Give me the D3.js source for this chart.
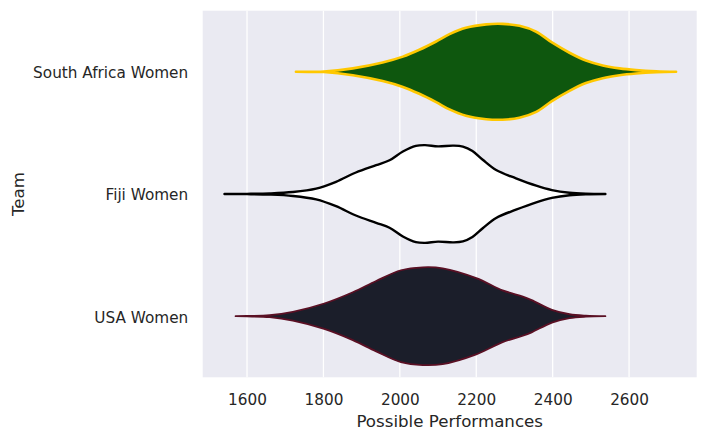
<!DOCTYPE html>
<html>
<head>
<meta charset="utf-8">
<script src="https://cdn.jsdelivr.net/npm/d3@7"></script>
<style>
  html, body { margin: 0; padding: 0; background: #ffffff; }
  svg { display: block; font-family: "DejaVu Sans", sans-serif; }
</style>
</head>
<body>
<svg id="chart" width="708" height="441"></svg>
<script>
// ---- data ----
const teams = ["South Africa Women", "Fiji Women", "USA Women"];
const xTicks = [1600, 1800, 2000, 2200, 2400, 2600];

// estimated density profiles (value, relative density)
const saValues  = [1728, 1801, 1877, 1955, 2008, 2051, 2095, 2130, 2173, 2226, 2269, 2313, 2357, 2398, 2444, 2487, 2531, 2575, 2618, 2671, 2723];
const saDensity = [0, 0.005, 0.07, 0.19, 0.31, 0.45, 0.62, 0.77, 0.90, 0.97, 0.98, 0.94, 0.82, 0.60, 0.39, 0.23, 0.13, 0.07, 0.035, 0.01, 0];

const fijiValues  = [1541, 1600, 1659, 1720, 1781, 1833, 1885, 1938, 1973, 2008, 2042, 2066, 2100, 2140, 2165, 2190, 2217, 2252, 2304, 2357, 2398, 2444, 2487, 2538];
const fijiDensity = [0, 0.003, 0.012, 0.04, 0.11, 0.25, 0.44, 0.59, 0.69, 0.87, 0.985, 1.0, 0.975, 0.99, 0.97, 0.88, 0.70, 0.49, 0.32, 0.17, 0.08, 0.025, 0.005, 0];

const usaValues  = [1570, 1600, 1659, 1720, 1802, 1877, 1938, 2003, 2060, 2112, 2200, 2269, 2322, 2345, 2398, 2444, 2487, 2538];
const usaDensity = [0, 0.004, 0.02, 0.09, 0.26, 0.49, 0.72, 0.94, 1.0, 0.98, 0.78, 0.53, 0.40, 0.33, 0.13, 0.04, 0.01, 0];

const fills   = ["#0e570e", "#ffffff", "#1b1e2a"];
const strokes = ["#ffc800", "#000000", "#5a1024"];
const strokeW = [2.6, 2.4, 1.8];

// ---- layout ----
const svg = d3.select("#chart");
const pL = 202.7, pR = 696.7, pT = 10.7, pB = 377.3;

const x = d3.scaleLinear().domain([1484, 2777]).range([pL, pR]);
const y = d3.scaleBand().domain(teams).range([pT, pB]).padding(0);
const w = d3.scaleLinear().domain([0, 1]).range([0, y.bandwidth() * 0.4]);

// background
svg.append("rect").attr("x", pL).attr("y", pT)
  .attr("width", pR - pL).attr("height", pB - pT)
  .attr("fill", "#eaeaf2");

// grid
svg.append("g").selectAll("line").data(xTicks).join("line")
  .attr("x1", d => x(d)).attr("x2", d => x(d))
  .attr("y1", pT).attr("y2", pB)
  .attr("stroke", "#ffffff").attr("stroke-width", 1.25);

// violins
const series = [
  saValues.map((v, i) => ({ v, d: saDensity[i] })),
  fijiValues.map((v, i) => ({ v, d: fijiDensity[i] })),
  usaValues.map((v, i) => ({ v, d: usaDensity[i] }))
];

series.forEach((pts, i) => {
  const cy = y(teams[i]) + y.bandwidth() / 2;
  const area = d3.area()
    .x(p => x(p.v))
    .y0(p => cy - w(p.d))
    .y1(p => cy + w(p.d))
    .curve(d3.curveCatmullRom.alpha(0.5));
  svg.append("path")
    .attr("d", area(pts))
    .attr("fill", fills[i])
    .attr("stroke", strokes[i])
    .attr("stroke-width", strokeW[i])
    .attr("stroke-linejoin", "round")
    .attr("stroke-linecap", "round");
});

// x axis
const xAxis = d3.axisBottom(x).tickValues(xTicks).tickSize(0).tickPadding(0).tickFormat(d3.format("d"));
const gx = svg.append("g").attr("transform", `translate(0,${pB})`).call(xAxis);
gx.select(".domain").remove();
gx.selectAll("text").attr("y", 0).attr("dy", null)
  .attr("transform", "translate(0,27.5)")
  .attr("fill", "#262626").style("font-size", "15.28px").style("font-family", "DejaVu Sans");

// y axis
const yAxis = d3.axisLeft(y).tickSize(0).tickPadding(0);
const gy = svg.append("g").attr("transform", `translate(${pL},0)`).call(yAxis);
gy.select(".domain").remove();
gy.selectAll("text").attr("x", -14.5).attr("dy", "0.42em")
  .attr("fill", "#262626").style("font-size", "15.28px").style("font-family", "DejaVu Sans");

// axis labels
svg.append("text")
  .attr("x", (pL + pR) / 2).attr("y", 426.5)
  .attr("text-anchor", "middle").attr("fill", "#262626")
  .style("font-size", "16.67px")
  .text("Possible Performances");

svg.append("text")
  .attr("transform", `translate(23.5,${(pT + pB) / 2}) rotate(-90)`)
  .attr("text-anchor", "middle").attr("fill", "#262626")
  .style("font-size", "16.67px")
  .text("Team");
</script>
</body>
</html>
